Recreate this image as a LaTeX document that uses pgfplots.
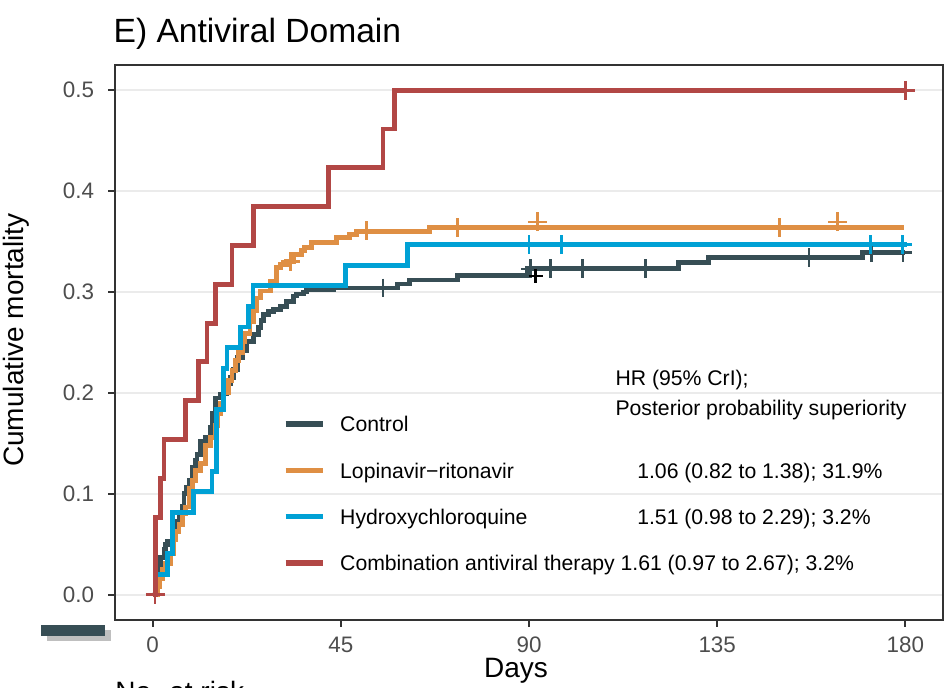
\documentclass[border=0pt]{standalone}
\usepackage{fontspec}
\setmainfont{Liberation Sans}
\usepackage{pgfplots}
\pgfplotsset{compat=1.18}
\definecolor{ctrl}{HTML}{374E55}
\definecolor{lpv}{HTML}{DF8F44}
\definecolor{hcq}{HTML}{00A1D5}
\definecolor{comb}{HTML}{B24745}
\definecolor{gridc}{HTML}{EBEBEB}
\definecolor{framec}{HTML}{333333}
\definecolor{tickc}{HTML}{4D4D4D}
\begin{document}
\begin{tikzpicture}
\begin{axis}[
  at={(0,0)}, anchor=south west,
  scale only axis, width=414pt, height=277.5pt,
  xmin=-9, xmax=189, ymin=-0.025, ymax=0.525,
  xtick={0,45,90,135,180},
  ytick={0,0.1,0.2,0.3,0.4,0.5},
  /pgf/number format/.cd, fixed, fixed zerofill, precision=1, assume math mode=true,
  /pgfplots/.cd,
  xticklabel={\pgfmathprintnumber[fixed,precision=0,fixed zerofill=false]{\tick}},
  tick align=outside, tick pos=left,
  major tick length=3.3pt,
  tick style={draw=framec, line width=1pt},
  axis line style={draw=framec, line width=1pt},
  ymajorgrids, major grid style={draw=gridc, line width=1pt},
  ticklabel style={font=\fontsize{11.2}{13}\selectfont, text=tickc, inner sep=0pt},
  yticklabel style={anchor=east, xshift=-7pt},
  xticklabel style={anchor=north, yshift=-4.8pt},
  xlabel={Days}, ylabel={Cumulative mortality},
  xlabel style={font=\fontsize{14}{16}\selectfont, inner sep=0pt, at={(rel axis cs:0.4843,0)}, anchor=north, yshift=-19pt},
  ylabel style={font=\fontsize{14}{16}\selectfont, inner sep=0pt, at={(rel axis cs:-0.1353,0.5045)}, anchor=north},
  legend style={at={(rel axis cs:0.2029,0.3681)}, anchor=north west, draw=none, fill=none,
    inner sep=0pt, outer sep=0pt, row sep=14.85pt, column sep=7.5pt,
    font=\fontsize{10.6}{12}\selectfont,
    nodes={inner sep=0pt, text height=8pt, text depth=0.3pt}},
  legend cell align=left,
  legend image code/.code={\draw[#1, line width=2.6pt] (0pt,0pt) -- (18.5pt,0pt);},
]
% Control
\addplot[const plot, ctrl, line width=2.4pt] coordinates {
(0,0) (0.7,0.014) (1.1,0.027) (1.9,0.037) (2.7,0.045) (3.1,0.050) (3.5,0.053)
(4.7,0.067) (5.9,0.073) (6.5,0.080) (7.1,0.088) (7.5,0.100) (8.1,0.106) (8.7,0.113)
(9.5,0.126) (10.2,0.133) (10.6,0.139) (11.4,0.152) (12.6,0.156) (13.8,0.166)
(14.4,0.180) (15.0,0.195) (16.2,0.199) (17.8,0.209) (18.6,0.215) (19.4,0.223)
(20.2,0.235) (21.4,0.242) (22.5,0.251) (24.1,0.258) (25.3,0.265) (25.9,0.272)
(26.5,0.278) (27.7,0.281) (28.9,0.283) (30.5,0.286) (32.0,0.291) (33.6,0.296)
(34.4,0.298) (36.0,0.300) (36.8,0.302) (43.2,0.304) (58.6,0.308) (61.4,0.312)
(72.9,0.316) (89.6,0.323) (125.7,0.329) (132.9,0.334) (169.8,0.339) (180,0.339)
};
\addlegendentry{Control}
% Lopinavir-ritonavir
\addplot[const plot, lpv, line width=2.4pt] coordinates {
(0,0) (1.1,0.008) (1.6,0.016) (2.3,0.025) (3.1,0.031) (4.3,0.041) (5.1,0.055)
(5.5,0.063) (6.3,0.070) (7.1,0.080) (7.9,0.087) (8.7,0.105) (9.5,0.113)
(10.2,0.123) (11.4,0.130) (12.6,0.148) (13.8,0.156) (15.0,0.168) (15.6,0.180)
(16.2,0.190) (17.0,0.200) (18.2,0.212) (19.0,0.222) (19.8,0.232) (20.5,0.240)
(21.4,0.251) (22.1,0.259) (23.3,0.271) (24.1,0.282) (24.9,0.294) (25.7,0.301)
(28.1,0.311) (29.7,0.324) (30.5,0.327) (32.0,0.330) (33.6,0.337) (35.6,0.341)
(36.4,0.344) (38.0,0.349) (44.0,0.354) (47.0,0.357) (48.7,0.360) (66.2,0.364)
(179.7,0.364)
};
\addlegendentry{Lopinavir−ritonavir}
% Hydroxychloroquine
\addplot[const plot, hcq, line width=2.4pt] coordinates {
(0,0) (0.7,0.0204) (3.5,0.0408) (4.7,0.0816) (9.8,0.1020) (14.2,0.1224)
(15.2,0.1837) (17.0,0.2245) (17.8,0.2449) (21.0,0.2653) (22.9,0.2857)
(24.0,0.3061) (46.2,0.3265) (61.0,0.3469) (180.5,0.3469)
};
\addlegendentry{Hydroxychloroquine}
% Combination
\addplot[const plot, comb, line width=2.4pt] coordinates {
(0,0) (0.7,0.0769) (1.9,0.1154) (2.7,0.1538) (7.9,0.1923) (11.0,0.2308)
(13.0,0.2692) (15.0,0.3077) (19.0,0.3462) (24.1,0.3846) (42.0,0.4231)
(55.1,0.4615) (57.9,0.5) (180,0.5)
};
\addlegendentry{Combination antiviral therapy 1.61 (0.97 to 2.67); 3.2\%}
% censor marks
\addplot[forget plot, only marks, mark=+, mark size=4.7pt, ctrl, line width=1.3pt] coordinates {
(55.1,0.304) (90.4,0.323) (95.1,0.323) (102.8,0.323) (117.9,0.323) (157,0.334) (171.9,0.339) (179.4,0.339)
};
\addplot[forget plot, only marks, mark=+, mark size=3.5pt, black, line width=1.3pt] coordinates {
(91.6,0.316)
};
\addplot[forget plot, only marks, mark=+, mark size=4.7pt, lpv, line width=1.3pt] coordinates {
(33.0,0.330) (51.1,0.361) (72.9,0.364) (92.0,0.3696) (149.9,0.364) (163.8,0.3696)
};
\addplot[forget plot, only marks, mark=+, mark size=4.7pt, hcq, line width=1.3pt] coordinates {
(90.0,0.3469) (97.8,0.3469) (171.7,0.3469) (179.3,0.3469)
};
\addplot[forget plot, only marks, mark=+, mark size=4.7pt, comb, line width=1.3pt] coordinates {
(0.6,0) (180,0.5)
};
\node[anchor=base west, inner sep=0pt, font=\fontsize{10.6}{12}\selectfont] at (axis cs:110.6,0.2069) {HR (95\% CrI);};
\node[anchor=base west, inner sep=0pt, font=\fontsize{10.6}{12}\selectfont] at (axis cs:110.6,0.1781) {Posterior probability superiority};
\node[anchor=base west, inner sep=0pt, font=\fontsize{10.6}{12}\selectfont] at (axis cs:115.8,0.1154) {1.06 (0.82 to 1.38); 31.9\%};
\node[anchor=base west, inner sep=0pt, font=\fontsize{10.6}{12}\selectfont] at (axis cs:115.8,0.0701) {1.51 (0.98 to 2.29); 3.2\%};
\end{axis}
% title
\node[anchor=base west, inner sep=0pt, font=\fontsize{16.8}{20}\selectfont] at (-0.9pt,288.85pt) {E) Antiviral Domain};
% fragments of the risk table below the plot
\fill[black!25] (-34.15pt,-5pt) rectangle (-2.15pt,-10.35pt);
\fill[ctrl] (-37pt,-2.5pt) rectangle (-5pt,-8pt);
\node[anchor=base west, inner sep=0pt, font=\fontsize{14}{16}\selectfont] at (0pt,-41pt) {No. at risk};
\pgfresetboundingbox
\path[use as bounding box] (-57.5pt,-34pt) rectangle (415pt,310pt);
\end{tikzpicture}
\end{document}
